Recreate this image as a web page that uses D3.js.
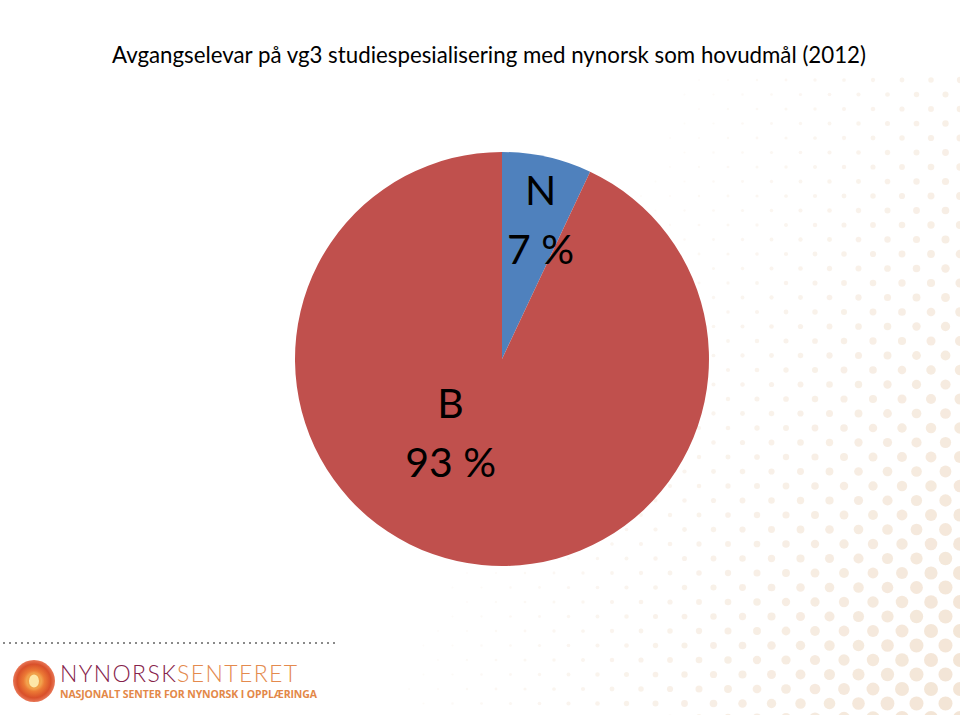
<!DOCTYPE html>
<html>
<head>
<meta charset="utf-8">
<script src="https://cdn.jsdelivr.net/npm/d3@7"></script>
<style>
  body { margin: 0; background: #fff; }
  svg { display: block; }
</style>
</head>
<body>
<svg id="chart" width="960" height="715"></svg>
<script>
const title = 'Avgangselevar på vg3 studiespesialisering med nynorsk som hovudmål (2012)'
const categories = ['N', 'B']
const shares = [7, 93]
const colors = ['#4f81bd', '#c0504d']

const W = 960, H = 715
const cx = 502, cy = 359, R = 207
const svg = d3.select('#chart')

// halftone dots in the background, right side
const gDots = svg.append('g')
const dotStep = 29, rowStep = 14.5
for (let row = 0; row * rowStep < H + 10; row++) {
  const y = 80 + row * rowStep
  const off = row % 2 ? dotStep / 2 : 0
  for (let x = 960 - off; x > 20; x -= dotStep) {
    const t = (x - 600) / 360 * 0.6 + (y - 80) / 635 * 0.5
    if (t <= 0.15) continue
    gDots.append('circle')
      .attr('cx', x).attr('cy', y)
      .attr('r', Math.min(7, 6.5 * t * t + 0.8))
      .style('fill', '#efdcc8')
      .style('opacity', Math.min(0.75, t * 0.7))
  }
}

svg.append('text')
  .attr('x', 112).attr('y', 63)
  .attr('textLength', 754)
  .attr('lengthAdjust', 'spacingAndGlyphs')
  .style('font-family', 'Lato, "Open Sans", sans-serif')
  .style('font-size', '23px')
  .style('fill', '#000')
  .text(title)

const data = categories.map((c, i) => ({ cat: c, value: shares[i], color: colors[i] }))
const pie = d3.pie().sort(null).value(d => d.value)
const arc = d3.arc().innerRadius(0).outerRadius(R)
const arcs = pie(data)

const gPie = svg.append('g').attr('transform', `translate(${cx},${cy})`)
gPie.selectAll('path').data(arcs).enter()
  .append('path')
  .attr('d', arc)
  .style('fill', d => d.data.color)

// label placement (Excel "best fit" look)
const labelRadius = [0.70, 0.43]
const nudge = [[7, 1], [-32, -14]]
const labels = gPie.selectAll('g.lbl').data(arcs).enter()
  .append('g').classed('lbl', true)
  .attr('transform', (d, i) => {
    const r = R * labelRadius[i]
    const p = d3.arc().innerRadius(r).outerRadius(r).centroid(d)
    return `translate(${p[0] + nudge[i][0]},${p[1] + nudge[i][1]})`
  })
labels.append('text')
  .attr('text-anchor', 'middle')
  .attr('y', -14)
  .style('font-family', 'Lato, "Open Sans", sans-serif')
  .style('font-size', '41px')
  .text(d => d.data.cat)
labels.append('text')
  .attr('text-anchor', 'middle')
  .attr('y', 45)
  .style('font-family', 'Lato, "Open Sans", sans-serif')
  .style('font-size', '41px')
  .text(d => d3.format('d')(d.data.value) + ' %')

// dotted separator
svg.append('line')
  .attr('x1', 3).attr('x2', 338).attr('y1', 643).attr('y2', 643)
  .style('stroke', '#8a8a8a').style('stroke-width', 2.2)
  .style('stroke-dasharray', '2 4')

// logo
const defs = svg.append('defs')
const grad = defs.append('radialGradient').attr('id', 'logoGrad')
grad.append('stop').attr('offset', '0%').attr('stop-color', '#fff6d0')
grad.append('stop').attr('offset', '25%').attr('stop-color', '#f7c060')
grad.append('stop').attr('offset', '50%').attr('stop-color', '#ec7a35')
grad.append('stop').attr('offset', '80%').attr('stop-color', '#d9502a')
grad.append('stop').attr('offset', '100%').attr('stop-color', '#e87858')
const gLogo = svg.append('g')
gLogo.append('circle').attr('cx', 34).attr('cy', 681).attr('r', 21)
  .style('fill', 'url(#logoGrad)')
gLogo.append('ellipse').attr('cx', 34).attr('cy', 681).attr('rx', 6).attr('ry', 7.5)
  .style('fill', '#fde8a8').style('stroke', '#f0a048').style('stroke-width', 2)

const logoText = gLogo.append('text')
  .attr('x', 60).attr('y', 682)
  .attr('textLength', 237)
  .style('font-family', 'Lato, "Open Sans", sans-serif')
  .style('font-weight', 300)
  .style('font-size', '23px')
logoText.append('tspan').style('fill', '#86224a').text('NYNORSK')
logoText.append('tspan').style('fill', '#e48a4e').text('SENTERET')

gLogo.append('text')
  .attr('x', 60).attr('y', 698)
  .attr('textLength', 257)
  .style('font-family', '"Open Sans", Lato, sans-serif')
  .style('font-weight', 700)
  .style('font-size', '10.5px')
  .style('fill', '#e38848')
  .text('NASJONALT SENTER FOR NYNORSK I OPPLÆRINGA')
</script>
</body>
</html>
